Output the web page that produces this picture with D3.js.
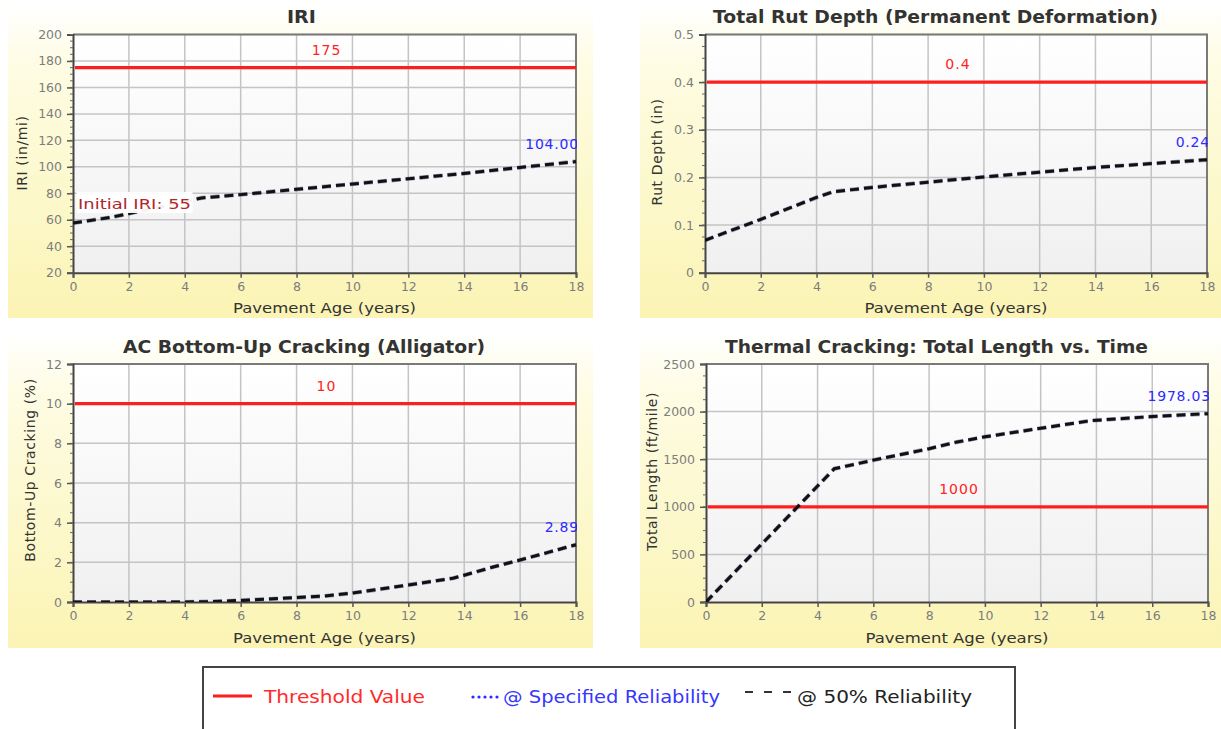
<!DOCTYPE html>
<html><head><meta charset="utf-8">
<script src="https://cdn.jsdelivr.net/npm/d3@7"></script>
<style>body{margin:0;background:#fff;} svg{display:block;}</style>
</head><body>
<svg id="c" width="1221" height="729"></svg>
<script>
// ---------- DATA ----------
const xTicks = [0, 2, 4, 6, 8, 10, 12, 14, 16, 18];

const iriAge   = [0, 1.4, 4.6, 6, 8, 10, 12, 14, 16, 18];
const iriValue = [57.5, 62, 76.5, 79, 83, 87, 91, 95, 99.5, 104];
const iriTicks = [20, 40, 60, 80, 100, 120, 140, 160, 180, 200];

const rutAge   = [0, 2, 4, 4.6, 6, 8, 10, 12, 14, 16, 18];
const rutValue = [0.068, 0.112, 0.158, 0.17, 0.179, 0.19, 0.201, 0.211, 0.221, 0.229, 0.237];
const rutTicks = [0, 0.1, 0.2, 0.3, 0.4, 0.5];

const acAge   = [0, 1, 2, 3, 4, 5, 6, 7, 8, 9, 10, 11, 12, 13, 13.6, 14, 15, 16, 17, 18];
const acValue = [0, 0, 0, 0, 0, 0.02, 0.08, 0.15, 0.22, 0.3, 0.45, 0.65, 0.86, 1.07, 1.2, 1.35, 1.75, 2.12, 2.5, 2.89];
const acTicks = [0, 2, 4, 6, 8, 10, 12];

const tcAge   = [0, 4.6, 6, 8, 9, 10, 12, 13.8, 16, 18];
const tcValue = [0, 1400, 1490, 1610, 1680, 1735, 1825, 1905, 1948, 1978.03];
const tcTicks = [0, 500, 1000, 1500, 2000, 2500];

const thresholds  = [175, 0.4, 10, 1000];
const finalLabels = ["104.00", "0.24", "2.89", "1978.03"];
const titles  = ["IRI", "Total Rut Depth (Permanent Deformation)", "AC Bottom-Up Cracking (Alligator)", "Thermal Cracking: Total Length vs. Time"];
const yTitles = ["IRI (in/mi)", "Rut Depth (in)", "Bottom-Up Cracking (%)", "Total Length (ft/mile)"];
const xTitle  = "Pavement Age (years)";
const initialLabel = "Initial IRI: 55";
const legendLabels = ["Threshold Value", "@ Specified Reliability", "@ 50% Reliability"];

// ---------- LAYOUT ----------
const svg = d3.select("#c");
const defs = svg.append("defs");

const pg = defs.append("linearGradient").attr("id","panelGrad").attr("x1",0).attr("y1",0).attr("x2",0).attr("y2",1);
pg.append("stop").attr("offset","0%").attr("stop-color","#fffffe");
pg.append("stop").attr("offset","18%").attr("stop-color","#fefce4");
pg.append("stop").attr("offset","100%").attr("stop-color","#fbf4b4");

const plg = defs.append("linearGradient").attr("id","plotGrad").attr("x1",0).attr("y1",0).attr("x2",0).attr("y2",1);
plg.append("stop").attr("offset","0%").attr("stop-color","#ffffff");
plg.append("stop").attr("offset","100%").attr("stop-color","#f0f0f0");

const panels = [
  {age: iriAge, val: iriValue, ticks: iriTicks, minor: 5, dom: [20, 200], thr: thresholds[0], fin: finalLabels[0],
   title: titles[0], yTitle: yTitles[0],
   box: [8, 7, 585, 311], plot: [73, 576, 34.5, 272.7], titleX: 301.5, titleW: 29, titleY: 23,
   yTitleX: 27, yTitleY: 153, xTitleY: 312.5, fmt: d3.format("d")},
  {age: rutAge, val: rutValue, ticks: rutTicks, minor: 0.025, dom: [0, 0.5], thr: thresholds[1], fin: finalLabels[1],
   title: titles[1], yTitle: yTitles[1],
   box: [640, 7, 581, 311], plot: [705, 1207, 34.5, 272.7], titleX: 935.5, titleW: 445, titleY: 23,
   yTitleX: 662, yTitleY: 152, xTitleY: 312.5, fmt: d => d === 0 ? "0" : d3.format(".1f")(d)},
  {age: acAge, val: acValue, ticks: acTicks, minor: 0.5, dom: [0, 12], thr: thresholds[2], fin: finalLabels[2],
   title: titles[2], yTitle: yTitles[2],
   box: [8, 334, 585, 314], plot: [73, 576, 364, 602], titleX: 304, titleW: 362, titleY: 353,
   yTitleX: 35, yTitleY: 470, xTitleY: 642.5, fmt: d3.format("d")},
  {age: tcAge, val: tcValue, ticks: tcTicks, minor: 125, dom: [0, 2500], thr: thresholds[3], fin: finalLabels[3],
   title: titles[3], yTitle: yTitles[3],
   box: [640, 334, 581, 314], plot: [706, 1208, 364, 602], titleX: 936.5, titleW: 423, titleY: 353,
   yTitleX: 657, yTitleY: 471.5, xTitleY: 642.5, fmt: d3.format("d")}
];

const FONT = "'DejaVu Sans', Verdana, sans-serif";

panels.forEach((p, i) => {
  const g = svg.append("g");
  const [bx, by, bw, bh] = p.box;
  const [L, R, T, B] = p.plot;
  g.append("rect").attr("x", bx).attr("y", by).attr("width", bw).attr("height", bh).attr("fill", "url(#panelGrad)");

  const x = d3.scaleLinear().domain([0, 18]).range([L, R]);
  const y = d3.scaleLinear().domain(p.dom).range([B, T]);

  // title
  g.append("text").attr("x", p.titleX).attr("y", p.titleY).attr("text-anchor", "middle")
    .attr("font-family", FONT).attr("font-weight", "bold").attr("font-size", 17).attr("fill", "#333")
    .attr("textLength", p.titleW).attr("lengthAdjust", "spacingAndGlyphs").text(p.title);

  // plot background
  g.append("rect").attr("x", L).attr("y", T).attr("width", R - L).attr("height", B - T).attr("fill", "url(#plotGrad)");

  // grid
  g.append("g").selectAll("line").data(xTicks.slice(1)).join("line")
    .attr("x1", d => x(d)).attr("x2", d => x(d)).attr("y1", T).attr("y2", B)
    .attr("stroke", "#c4c4c4").attr("stroke-width", 1.5);
  g.append("g").selectAll("line").data(p.ticks.slice(1)).join("line")
    .attr("x1", L).attr("x2", R).attr("y1", d => y(d)).attr("y2", d => y(d))
    .attr("stroke", "#c4c4c4").attr("stroke-width", 1.5);

  // frame top/right
  g.append("path").attr("d", `M${L},${T}H${R}V${B}`).attr("fill", "none").attr("stroke", "#7a7a7a").attr("stroke-width", 2);

  // y axis
  const minorTicks = d3.range(p.dom[0], p.dom[1] + p.minor / 2, p.minor);
  const yAx = g.append("g").attr("transform", `translate(${L},0)`)
    .call(d3.axisLeft(y).tickValues(p.ticks).tickFormat(p.fmt).tickSize(6).tickPadding(4));
  yAx.append("g").selectAll("line").data(minorTicks).join("line")
    .attr("x1", -3).attr("x2", 0).attr("y1", d => y(d)).attr("y2", d => y(d)).attr("stroke", "#666").attr("stroke-width", 1);
  // x axis
  const xAx = g.append("g").attr("transform", `translate(0,${B})`)
    .call(d3.axisBottom(x).tickValues(xTicks).tickFormat(d3.format("d")).tickSize(5).tickPadding(4));
  [yAx, xAx].forEach(a => {
    a.select(".domain").attr("stroke", "#444").attr("stroke-width", 2);
    a.selectAll(".tick line").attr("stroke", "#555").attr("stroke-width", 1.5);
    a.selectAll(".tick text").attr("font-family", FONT).attr("font-size", 12.5).attr("fill", "#7d7d7d");
  });
  yAx.selectAll(".tick text").attr("dx", -1);

  // axis titles
  g.append("text").attr("x", (L + R) / 2).attr("y", p.xTitleY).attr("text-anchor", "middle")
    .attr("font-family", FONT).attr("font-size", 14).attr("fill", "#333")
    .attr("textLength", 183).attr("lengthAdjust", "spacingAndGlyphs").text(xTitle);
  g.append("text").attr("transform", `translate(${p.yTitleX},${p.yTitleY}) rotate(-90)`).attr("text-anchor", "middle")
    .attr("font-family", FONT).attr("font-size", 14).attr("fill", "#333").attr("letter-spacing", 0.6).text(p.yTitle);

  // clip
  const cid = "clip" + i;
  defs.append("clipPath").attr("id", cid).append("rect").attr("x", L).attr("y", T - 30).attr("width", R - L + 1).attr("height", B - T + 30);

  // threshold
  g.append("line").attr("x1", L + 2).attr("x2", R).attr("y1", y(p.thr)).attr("y2", y(p.thr))
    .attr("stroke", "#ff1e1e").attr("stroke-width", 3.2);
  g.append("text").attr("x", (L + R) / 2 + 2).attr("y", y(p.thr) - 13).attr("text-anchor", "middle")
    .attr("font-family", FONT).attr("font-size", 14).attr("letter-spacing", 1).attr("fill", "#ff2222").text(p.thr);

  // 50% reliability line
  const pts = p.age.map((a, k) => [a, p.val[k]]);
  const line = d3.line().x(d => x(d[0])).y(d => y(d[1]));
  const lg = g.append("g").attr("clip-path", `url(#${cid})`);
  lg.append("path").datum(pts).attr("d", line).attr("fill", "none")
    .attr("stroke", "#3a3a8a").attr("stroke-width", 4.2).attr("stroke-dasharray", "9,5").attr("opacity", 0.45);
  lg.append("path").datum(pts).attr("d", line).attr("fill", "none")
    .attr("stroke", "#111").attr("stroke-width", 3).attr("stroke-dasharray", "9,5");

  // final value label
  const last = pts[pts.length - 1];
  lg.append("text").attr("x", R + 3).attr("y", y(last[1]) - 13).attr("text-anchor", "end")
    .attr("font-family", FONT).attr("font-size", 14).attr("letter-spacing", 0.8).attr("fill", "#2b2bff").text(p.fin);

  if (i === 0) {
    g.append("rect").attr("x", 76.5).attr("y", 192).attr("width", 116).attr("height", 21).attr("fill", "#fff").attr("opacity", 0.95);
    g.append("text").attr("x", 78).attr("y", 208.5).attr("font-family", FONT).attr("font-size", 14)
      .attr("fill", "#b0262c").attr("textLength", 113).attr("lengthAdjust", "spacingAndGlyphs").text(initialLabel);
  }
});

// ---------- LEGEND ----------
const lgd = svg.append("g");
lgd.append("rect").attr("x", 203).attr("y", 667).attr("width", 812).attr("height", 80)
  .attr("fill", "#fff").attr("stroke", "#444").attr("stroke-width", 2);
const LF = "'DejaVu Sans Condensed', 'DejaVu Sans', sans-serif";
lgd.append("line").attr("x1", 213).attr("x2", 252).attr("y1", 696).attr("y2", 696).attr("stroke", "#ff1e1e").attr("stroke-width", 3);
lgd.append("text").attr("x", 264).attr("y", 703).attr("font-family", LF).attr("font-size", 18).attr("fill", "#ff2a2a")
  .attr("textLength", 161).attr("lengthAdjust", "spacingAndGlyphs").text(legendLabels[0]);
lgd.append("g").selectAll("circle").data(d3.range(5)).join("circle")
  .attr("cx", d => 473 + d * 6).attr("cy", 697).attr("r", 1.6).attr("fill", "#2b2bff");
lgd.append("text").attr("x", 503).attr("y", 703).attr("font-family", LF).attr("font-size", 18).attr("fill", "#3636ff")
  .attr("textLength", 217).attr("lengthAdjust", "spacingAndGlyphs").text(legendLabels[1]);
lgd.append("line").attr("x1", 745).attr("x2", 791).attr("y1", 692).attr("y2", 692)
  .attr("stroke", "#333").attr("stroke-width", 2).attr("stroke-dasharray", "8,11");
lgd.append("text").attr("x", 797).attr("y", 703).attr("font-family", LF).attr("font-size", 18).attr("fill", "#222")
  .attr("textLength", 175).attr("lengthAdjust", "spacingAndGlyphs").text(legendLabels[2]);
</script>
</body></html>
